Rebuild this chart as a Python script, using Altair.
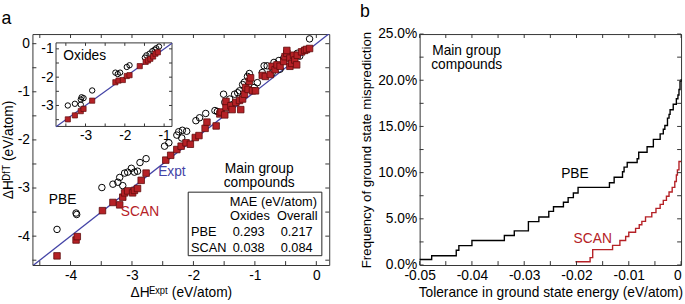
import altair as alt
import pandas as pd

FONT = "Liberation Sans"
RED = "#b52126"
RED_EDGE = "#5e0c0c"
BLUE = "#4343a6"
FRAME = "#333333"
MINUS = "replace(datum.label, '\u2212', '-')"

# ---------------- panel a : main scatter ----------------
pbe_x = [-4.22, -3.91, -3.90, -3.49, -3.31, -3.23, -3.15, -3.20, -3.12, -3.07, -3.01, -2.96, -2.91, -2.87,
         -2.77, -2.47, -2.40, -2.27, -2.24, -2.18, -2.11, -2.19, -1.96, -1.90, -1.80, -1.65, -1.61, -1.51,
         -1.49, -1.41, -1.33, -1.28, -1.25, -1.20, -1.17, -1.12, -1.09, -1.01, -0.96, -0.88, -0.85, -0.80,
         -0.72, -0.69, -0.61, -0.59, -0.53, -0.45, -0.43, -0.35, -0.31, -0.27, -0.20, -0.11]
pbe_y = [-3.86, -3.52, -3.55, -2.99, -2.92, -2.88, -2.95, -2.78, -2.69, -2.67, -2.59, -2.67, -2.65, -2.47,
         -2.39, -2.13, -2.06, -1.90, -1.83, -1.80, -1.82, -1.96, -1.60, -1.54, -1.45, -1.39, -1.41, -1.05,
         -1.22, -1.15, -1.05, -1.02, -0.98, -0.85, -0.80, -0.68, -0.62, -0.91, -0.81, -0.60, -0.46, -0.46,
         -0.61, -0.39, -0.35, -0.53, -0.30, -0.38, -0.27, -0.27, -0.20, -0.26, -0.14, 0.10]
scan_x = [-4.22, -3.91, -3.89, -3.48, -3.31, -3.20, -3.15, -3.12, -3.07, -2.99, -2.96, -2.91, -2.85, -2.77,
          -2.45, -2.37, -2.27, -2.20, -2.12, -2.05, -1.97, -1.91, -1.81, -1.78, -1.63, -1.57, -1.55, -1.49,
          -1.47, -1.47, -1.39, -1.37, -1.31, -1.23, -1.25, -1.20, -1.17, -1.15, -1.09, -1.07, -1.11, -1.04,
          -0.99, -0.88, -0.83, -0.75, -0.72, -0.67, -0.64, -0.59, -0.53, -0.51, -0.48, -0.48, -0.43, -0.43,
          -0.40, -0.37, -0.35, -0.32, -0.31, -0.24, -0.19, -0.16, -0.11]
scan_y = [-4.41, -4.08, -4.01, -3.47, -3.30, -3.35, -3.19, -3.10, -3.06, -3.10, -3.05, -3.01, -2.84, -2.69,
          -2.42, -2.32, -2.20, -2.13, -2.06, -2.09, -1.95, -1.91, -1.76, -1.63, -1.71, -1.46, -1.42, -1.48,
          -1.32, -1.20, -1.29, -1.37, -1.22, -1.37, -1.18, -1.15, -1.05, -0.91, -0.78, -0.71, -0.95, -0.98,
          -0.98, -0.66, -0.68, -0.64, -0.47, -0.54, -0.44, -0.47, -0.37, -0.27, -0.20, -0.14, -0.30, -0.47,
          -0.41, -0.24, -0.34, -0.44, -0.24, -0.17, -0.14, -0.12, -0.10]
expt_line = [-4.7, 0.3]

# inset (oxides)
ox_pbe_x = [-3.45, -3.27, -3.12, -3.10, -3.05, -3.12, -2.83, -2.24, -2.18, -2.12, -1.95, -1.88, -1.49,
            -1.45, -1.37, -1.30, -1.24, -1.20, -1.13]
ox_pbe_y = [-3.00, -2.94, -2.79, -2.71, -2.74, -2.97, -2.47, -1.84, -1.89, -1.84, -1.64, -1.58, -1.31,
            -1.23, -1.17, -1.08, -1.03, -0.98, -0.92]
ox_scan_x = [-3.45, -3.27, -3.12, -3.05, -2.83, -2.24, -2.16, -2.05, -1.95, -1.88, -1.62, -1.47, -1.41,
             -1.35, -1.28, -1.22, -1.16]
ox_scan_y = [-3.49, -3.35, -3.20, -3.12, -2.83, -2.18, -2.12, -2.10, -1.96, -1.93, -1.61, -1.46, -1.41,
             -1.35, -1.27, -1.17, -1.12]

# MAE table
mae_rows = ["PBE", "SCAN"]
mae_oxides = ["0.293", "0.038"]
mae_overall = ["0.217", "0.084"]

# ---------------- panel b : misprediction ----------------
pbe_tol = [-0.05, -0.0477, -0.043, -0.0425, -0.040, -0.0338, -0.0319, -0.0292, -0.0272, -0.0253, -0.0244,
           -0.0225, -0.0216, -0.0206, -0.0197, -0.0137, -0.0128, -0.0112, -0.0109, -0.0103, -0.0084, -0.0081,
           -0.0065, -0.0053, -0.0040, -0.0034, -0.0031, -0.0026, -0.0023, -0.0021, -0.0015, -0.0009, -0.0006,
           -0.0004, -0.0002, 0.0]
pbe_freq = [0.6, 1.0, 1.6, 2.1, 2.65, 3.2, 3.7, 4.7, 5.2, 5.8, 6.3, 6.8, 7.3, 7.8, 8.4, 8.9, 9.5, 10.1, 10.6,
            11.1, 11.5, 12.2, 12.8, 13.6, 14.2, 14.7, 15.1, 15.9, 16.3, 16.8, 17.4, 18.0, 18.4, 19.0, 19.9, 20.1]
scan_tol = [-0.0202, -0.0174, -0.0169, -0.0131, -0.0117, -0.0106, -0.0100, -0.0087, -0.0080, -0.0075, -0.0068,
            -0.0056, -0.0048, -0.0040, -0.0034, -0.0028, -0.0023, -0.0017, -0.0012, -0.0009, -0.0007, -0.0004, 0.0]
scan_freq = [0.35, 0.8, 1.67, 2.13, 2.66, 3.09, 3.55, 3.97, 4.36, 4.72, 5.21, 5.67, 6.13, 6.56, 6.99, 7.45,
             7.91, 8.4, 9.04, 9.75, 10.3, 11.2, 11.2]

# ---------------- geometry ----------------
WA, HA = 302, 235
WB, HB = 266, 235
XA = [-4.62, 0.21]
YA = [-4.6, 0.2]
XI = [-3.75, -0.8]
YI = [-3.74, -0.79]
XI_RANGE = [24, 142]
YI_RANGE = [94, 9]
XB = [-0.05, 0.0]
YB = [0, 25]


def tick_frame(xvals, yvals, xd, yd, lx, ly):
    rows = []
    for v in xvals:
        rows.append(dict(x=v, x2=v, y=yd[0], y2=yd[0] + ly))
        rows.append(dict(x=v, x2=v, y=yd[1], y2=yd[1] - ly))
    for v in yvals:
        rows.append(dict(x=xd[0], x2=xd[0] + lx, y=v, y2=v))
        rows.append(dict(x=xd[1], x2=xd[1] - lx, y=v, y2=v))
    return pd.DataFrame(rows)


# ---- panel a main layer
sxa = alt.Scale(domain=XA, nice=False, zero=False)
sya = alt.Scale(domain=YA, nice=False, zero=False)
ax_xa = alt.Axis(values=[-4, -3, -2, -1, 0], title="ΔHᴱˣᵖᵗ (eV/atom)", ticks=False, domain=False,
                 grid=False, labelPadding=4, labelExpr=MINUS, titlePadding=3)
ax_ya = alt.Axis(values=[0, -1, -2, -3, -4], title="ΔHᴰᶠᵀ (eV/atom)", ticks=False, domain=False,
                 grid=False, labelPadding=3, labelExpr=MINUS, titlePadding=2)


def XAe(f="x"):
    return alt.X(f"{f}:Q", scale=sxa, axis=ax_xa)


def YAe(f="y"):
    return alt.Y(f"{f}:Q", scale=sya, axis=ax_ya)


line_df = pd.DataFrame({"x": expt_line, "y": expt_line})
pbe_df = pd.DataFrame({"x": pbe_x, "y": pbe_y})
scan_df = pd.DataFrame({"x": scan_x, "y": scan_y})

main_line = alt.Chart(line_df).mark_line(color=BLUE, strokeWidth=1.3, clip=True).encode(x=XAe(), y=YAe())
main_pbe = alt.Chart(pbe_df).mark_point(shape="circle", filled=False, color="black", strokeWidth=1,
                                        size=44, opacity=1).encode(x=XAe(), y=YAe())
main_scan = alt.Chart(scan_df).mark_square(color=RED, stroke=RED_EDGE, strokeWidth=0.8, size=44,
                                           opacity=1).encode(x=XAe(), y=YAe())

ticks_a = tick_frame([-4.5 + 0.5 * i for i in range(10)], [-4.5 + 0.5 * i for i in range(10)],
                     XA, YA, 4 * (XA[1] - XA[0]) / WA, 4 * (YA[1] - YA[0]) / HA)
main_ticks = alt.Chart(ticks_a).mark_rule(color=FRAME, strokeWidth=1).encode(
    x=XAe(), x2="x2:Q", y=YAe(), y2="y2:Q")

ann_a = pd.DataFrame({
    "x": [-4.13, -2.87, -2.35, -0.93, -0.93],
    "y": [-3.25, -3.51, -2.67, -2.60, -2.90],
    "t": ["PBE", "SCAN", "Expt", "Main group", "compounds"],
    "c": ["black", RED, BLUE, "black", "black"],
})
main_ann = alt.Chart(ann_a).mark_text(font=FONT, fontSize=14, baseline="middle").encode(
    x=XAe(), y=YAe(), text="t:N", color=alt.Color("c:N", scale=None))

box_df = pd.DataFrame({"x": [-2.085], "x2": [0.09], "y": [-3.086], "y2": [-4.406]})
main_box = alt.Chart(box_df).mark_rect(fillOpacity=0, stroke="#222222", strokeWidth=1).encode(
    x=XAe(), x2="x2:Q", y=YAe(), y2="y2:Q")

tab_center = pd.DataFrame({
    "x": [-0.70, -1.08, -0.31, -1.10, -0.32, -1.10, -0.32],
    "y": [-3.29, -3.59, -3.59, -3.91, -3.91, -4.24, -4.24],
    "t": ["MAE (eV/atom)", "Oxides", "Overall", mae_oxides[0], mae_overall[0], mae_oxides[1], mae_overall[1]],
})
main_tab = alt.Chart(tab_center).mark_text(font=FONT, fontSize=13, baseline="middle", color="black").encode(
    x=XAe(), y=YAe(), text="t:N")
tab_left = pd.DataFrame({"x": [-2.04, -2.04], "y": [-3.91, -4.24], "t": mae_rows})
main_tab2 = alt.Chart(tab_left).mark_text(font=FONT, fontSize=13, baseline="middle", align="left",
                                          color="black").encode(x=XAe(), y=YAe(), text="t:N")

main_layer = alt.layer(main_line, main_pbe, main_scan, main_ticks, main_ann, main_box, main_tab, main_tab2)

# ---- panel a inset layer
sxi = alt.Scale(domain=XI, range=XI_RANGE, nice=False, zero=False)
syi = alt.Scale(domain=YI, range=YI_RANGE, nice=False, zero=False)
ax_xi = alt.Axis(orient="bottom", offset=YI_RANGE[0] - HA, values=[-3, -2, -1], ticks=False, domain=False,
                 grid=False, title=None, labelPadding=2, labelExpr=MINUS)
ax_yi = alt.Axis(orient="left", offset=-XI_RANGE[0], values=[-1, -2, -3], ticks=False, domain=False,
                 grid=False, title=None, labelPadding=3, labelExpr=MINUS)


def XIe(f="x"):
    return alt.X(f"{f}:Q", scale=sxi, axis=ax_xi)


def YIe(f="y"):
    return alt.Y(f"{f}:Q", scale=syi, axis=ax_yi)


inset_bg = alt.Chart(pd.DataFrame({"x": [XI[0]], "x2": [XI[1]], "y": [YI[0]], "y2": [YI[1]]})).mark_rect(
    fill="white", stroke=FRAME, strokeWidth=1).encode(x=XIe(), x2="x2:Q", y=YIe(), y2="y2:Q")
inset_line = alt.Chart(pd.DataFrame({"x": [XI[0], XI[1]], "y": [XI[0], XI[1]]})).mark_line(
    color=BLUE, strokeWidth=1.2).encode(x=XIe(), y=YIe())
inset_pbe = alt.Chart(pd.DataFrame({"x": ox_pbe_x, "y": ox_pbe_y})).mark_point(
    shape="circle", filled=False, color="black", strokeWidth=1, size=30, opacity=1).encode(x=XIe(), y=YIe())
inset_scan = alt.Chart(pd.DataFrame({"x": ox_scan_x, "y": ox_scan_y})).mark_square(
    color=RED, stroke=RED_EDGE, strokeWidth=0.7, size=28, opacity=1).encode(x=XIe(), y=YIe())
ticks_i = tick_frame([-3.5 + 0.5 * i for i in range(6)], [-3.5 + 0.5 * i for i in range(6)],
                     XI, YI, 3 * (XI[1] - XI[0]) / (XI_RANGE[1] - XI_RANGE[0]),
                     3 * (YI[1] - YI[0]) / (YI_RANGE[0] - YI_RANGE[1]))
inset_ticks = alt.Chart(ticks_i).mark_rule(color=FRAME, strokeWidth=1).encode(
    x=XIe(), x2="x2:Q", y=YIe(), y2="y2:Q")
inset_txt = alt.Chart(pd.DataFrame({"x": [-3.02], "y": [-1.27], "t": ["Oxides"]})).mark_text(
    font=FONT, fontSize=14, baseline="middle", color="black").encode(x=XIe(), y=YIe(), text="t:N")

inset_layer = alt.layer(inset_bg, inset_line, inset_pbe, inset_scan, inset_ticks, inset_txt)

panel_a = alt.layer(main_layer, inset_layer).resolve_scale(x="independent", y="independent").properties(
    width=WA, height=HA, title=alt.TitleParams("a", anchor="start", offset=6, fontSize=18))

# ---- panel b
sxb = alt.Scale(domain=XB, nice=False, zero=False)
syb = alt.Scale(domain=YB, nice=False, zero=False)
ax_xb = alt.Axis(values=[-0.05, -0.04, -0.03, -0.02, -0.01, 0],
                 labelExpr="datum.value == 0 ? '0' : replace(format(datum.value, '.2f'), '\u2212', '-')",
                 labelAlign={"condition": {"test": "datum.value == 0", "value": "right"}, "value": "center"},
                 title="Tolerance in ground state energy (eV/atom)", ticks=False, domain=False, grid=False,
                 labelPadding=4, titlePadding=3)
ax_yb = alt.Axis(values=[0, 5, 10, 15, 20, 25], labelExpr="format(datum.value, '.1f') + '%'",
                 title="Frequency of ground state misprediction", ticks=False, domain=False, grid=False,
                 labelPadding=3, titlePadding=4, titleFontSize=13.5)


def XBe(f="x"):
    return alt.X(f"{f}:Q", scale=sxb, axis=ax_xb)


def YBe(f="y"):
    return alt.Y(f"{f}:Q", scale=syb, axis=ax_yb)


b_pbe = alt.Chart(pd.DataFrame({"x": pbe_tol, "y": pbe_freq})).mark_line(
    interpolate="step-after", color="black", strokeWidth=1.4).encode(x=XBe(), y=YBe())
b_scan = alt.Chart(pd.DataFrame({"x": scan_tol, "y": scan_freq})).mark_line(
    interpolate="step-after", color=RED, strokeWidth=1.4).encode(x=XBe(), y=YBe())
ticks_b = tick_frame([-0.05 + 0.005 * i for i in range(11)], [2.5 * i for i in range(11)],
                     XB, YB, 4 * (XB[1] - XB[0]) / WB, 4 * (YB[1] - YB[0]) / HB)
b_ticks = alt.Chart(ticks_b).mark_rule(color=FRAME, strokeWidth=1).encode(
    x=XBe(), x2="x2:Q", y=YBe(), y2="y2:Q")
ann_b = pd.DataFrame({
    "x": [-0.0203, -0.0169],
    "y": [9.8, 2.77],
    "t": ["PBE", "SCAN"],
    "c": ["black", RED],
})
b_ann = alt.Chart(ann_b).mark_text(font=FONT, fontSize=14, baseline="middle").encode(
    x=XBe(), y=YBe(), text="t:N", color=alt.Color("c:N", scale=None))
ann_b2 = pd.DataFrame({"x": [-0.0476, -0.0478], "y": [23.2, 21.6], "t": ["Main group", "compounds"]})
b_ann2 = alt.Chart(ann_b2).mark_text(font=FONT, fontSize=14, baseline="middle", align="left",
                                     color="black").encode(x=XBe(), y=YBe(), text="t:N")

panel_b = alt.layer(b_pbe, b_scan, b_ticks, b_ann, b_ann2).properties(
    width=WB, height=HB, title=alt.TitleParams("b", anchor="start", offset=6, fontSize=18))

chart = alt.hconcat(panel_a, panel_b, spacing=29).configure_view(
    stroke=FRAME, strokeWidth=1
).configure_axis(
    labelFont=FONT, titleFont=FONT, labelFontSize=14, titleFontSize=14, labelColor="black",
    titleColor="black", titleFontWeight="normal"
).configure_title(
    font=FONT, fontWeight="normal", color="black"
).properties(
    padding={"left": 1, "top": 0, "right": 0, "bottom": 0}, background="white"
)

chart.save("out.html", embed_options={"renderer": "svg", "actions": False})
